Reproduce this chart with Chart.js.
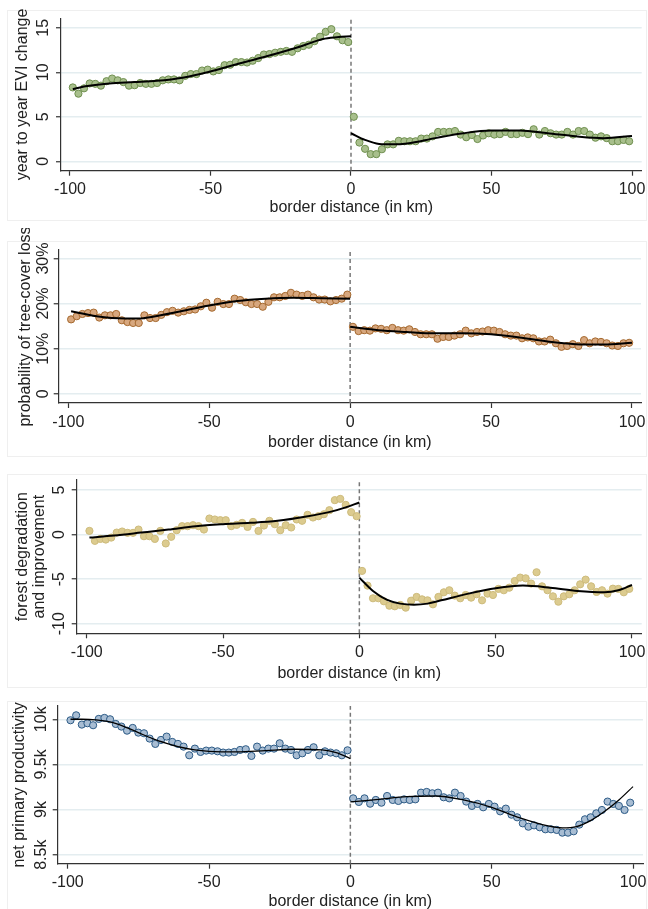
<!DOCTYPE html>
<html>
<head>
<meta charset="utf-8">
<script src="https://cdn.jsdelivr.net/npm/chart.js@4.4.1/dist/chart.umd.min.js"></script>
<style>
  html, body { margin: 0; padding: 0; background: #fff; overflow: hidden; }
  #page { position: relative; width: 648px; height: 909px; }
  .frame { position: absolute; left: 7px; width: 638px; border: 1px solid #efefef; }
  canvas { position: absolute; left: 0; }
</style>
</head>
<body>
<div id="page">
  <div class="frame" style="top:10px;height:209px"></div>
  <div class="frame" style="top:241px;height:214px"></div>
  <div class="frame" style="top:474px;height:212px"></div>
  <div class="frame" style="top:701px;height:212px"></div>
  <canvas id="chart-evi" width="648" height="222" style="top:0px"></canvas>
  <canvas id="chart-loss" width="648" height="230" style="top:228px"></canvas>
  <canvas id="chart-degradation" width="648" height="228" style="top:462px"></canvas>
  <canvas id="chart-npp" width="648" height="216" style="top:694px"></canvas>
</div>
<script>
// 2 km bins on each side of the border
const BINS_LEFT = [-99, -97, -95, -93, -91, -89, -87, -85, -83, -81, -79, -77, -75, -73, -71, -69, -67, -65, -63, -61,
  -59, -57, -55, -53, -51, -49, -47, -45, -43, -41, -39, -37, -35, -33, -31, -29, -27, -25, -23, -21,
  -19, -17, -15, -13, -11, -9, -7, -5, -3, -1];
const BINS_RIGHT = [1, 3, 5, 7, 9, 11, 13, 15, 17, 19, 21, 23, 25, 27, 29, 31, 33, 35, 37, 39,
  41, 43, 45, 47, 49, 51, 53, 55, 57, 59, 61, 63, 65, 67, 69, 71, 73, 75, 77, 79,
  81, 83, 85, 87, 89, 91, 93, 95, 97, 99];
const X_TICKS = [-100, -50, 0, 50, 100];
const BORDER = 0;

// year to year EVI change
const evi_left = [8.3, 7.6, 8.2, 8.75, 8.7, 8.5, 9.0, 9.3, 9.1, 8.9, 8.5, 8.55, 8.8, 8.7, 8.7, 8.8, 9.1, 9.2, 9.2, 9.1,
  9.6, 9.8, 9.8, 10.2, 10.3, 10.1, 10.25, 10.8, 10.85, 11.15, 11.15, 11.1, 11.3, 11.6, 12.0, 12.05, 12.2, 12.3, 12.4, 12.3,
  12.7, 12.95, 13.1, 13.5, 14.0, 14.55, 14.85, 14.05, 13.6, 13.4];
const evi_right = [5.0, 2.1, 1.4, 0.8, 0.8, 1.35, 1.9, 1.9, 2.3, 2.25, 2.25, 2.25, 2.55, 2.55, 2.8, 3.3, 3.3, 3.3, 3.4, 3.0,
  2.7, 2.95, 2.5, 2.9, 3.15, 3.0, 3.05, 3.3, 3.05, 3.05, 3.2, 3.05, 3.6, 3.0, 3.4, 3.15, 3.0, 3.0, 3.3, 3.0,
  3.4, 3.4, 3.0, 2.65, 2.8, 2.6, 2.25, 2.25, 2.4, 2.25];
const evi_fit_x_left = [-99, -95, -86, -77, -69, -60, -50, -42, -30, -18, -10, -5, 0];
const evi_fit_left = [8.1, 8.4, 8.75, 8.9, 9.05, 9.4, 10.1, 10.8, 11.8, 12.9, 13.75, 13.95, 14.05];
const evi_fit_x_right = [0, 5, 10, 15, 20, 30, 40, 50, 60, 70, 80, 90, 100];
const evi_fit_right = [3.15, 2.4, 1.95, 1.9, 2.0, 2.6, 3.15, 3.45, 3.45, 3.15, 2.8, 2.6, 2.85];
const evi_ticks = [0, 5, 10, 15];
const evi_tick_labels = ["0", "5", "10", "15"];

// probability of tree-cover loss (percent)
const loss_left = [16.5, 17.2, 17.7, 17.9, 18.0, 16.9, 17.4, 17.4, 17.7, 16.3, 15.9, 15.7, 15.7, 17.4, 16.8, 16.8, 17.5, 18.1, 18.4, 18.0,
  18.3, 18.6, 18.7, 19.4, 20.2, 19.1, 20.4, 19.9, 19.9, 21.1, 20.8, 20.3, 19.9, 19.9, 19.3, 20.4, 21.4, 21.4, 21.7, 22.4,
  22.0, 21.7, 22.0, 21.4, 20.9, 20.9, 20.5, 20.8, 21.1, 22.0];
const loss_right = [14.85, 13.9, 14.1, 14.0, 14.5, 14.4, 14.1, 14.6, 14.1, 14.0, 14.3, 13.7, 13.2, 13.2, 13.2, 12.2, 12.6, 12.6, 12.9, 13.2,
  14.0, 13.4, 13.7, 13.8, 14.1, 14.0, 13.7, 13.2, 12.9, 12.9, 12.3, 12.5, 12.3, 11.6, 11.6, 12.0, 11.2, 10.4, 10.6, 11.0,
  10.6, 11.9, 11.2, 11.6, 11.5, 11.2, 10.7, 10.6, 11.2, 11.3];
const loss_fit_x_left = [-99, -90, -80, -75, -70, -60, -50, -40, -30, -20, -10, 0];
const loss_fit_left = [18.3, 17.2, 16.7, 16.7, 17.1, 18.3, 19.6, 20.6, 21.1, 21.3, 21.2, 21.1];
const loss_fit_x_right = [0, 10, 20, 30, 40, 50, 60, 70, 80, 90, 100];
const loss_fit_right = [14.85, 14.1, 13.7, 13.4, 13.4, 13.2, 12.5, 11.6, 11.0, 10.9, 11.3];
const loss_ticks = [0, 10, 20, 30];
const loss_tick_labels = ["0", "10%", "20%", "30%"];

// forest degradation and improvement
const degr_left = [0.41, -0.71, -0.49, -0.56, -0.34, 0.22, 0.34, 0.19, 0.19, 0.56, -0.19, -0.19, -0.49, 0.41, -1.0, -0.26, 0.49, 0.94, 0.94, 1.05,
  0.94, 0.56, 1.8, 1.69, 1.61, 1.61, 0.94, 1.09, 1.31, 0.86, 1.42, 0.41, 1.01, 1.54, 1.16, 0.49, 1.05, 0.79, 1.69, 1.54,
  2.21, 1.91, 2.06, 2.28, 2.73, 3.86, 4.0, 3.33, 2.51, 2.06];
const degr_right = [-4.08, -5.73, -7.15, -7.15, -7.49, -7.98, -8.05, -7.9, -8.2, -7.42, -7.0, -7.27, -7.38, -7.83, -7.0, -6.48, -6.25, -6.85, -7.15, -6.78,
  -7.08, -6.7, -7.38, -6.63, -6.78, -6.1, -6.25, -5.96, -5.21, -4.83, -4.91, -5.5, -4.23, -5.81, -6.25, -6.93, -7.53, -6.93, -6.7, -6.25,
  -5.58, -5.06, -5.81, -6.44, -6.25, -6.63, -6.07, -6.1, -6.48, -6.1];
const degr_fit_x_left = [-99, -90, -80, -70, -60, -50, -40, -30, -20, -10, -5, 0];
const degr_fit_left = [-0.34, -0.11, 0.22, 0.56, 0.94, 1.16, 1.31, 1.54, 1.99, 2.6, 3.05, 3.6];
const degr_fit_x_right = [0, 5, 10, 15, 20, 25, 30, 40, 50, 60, 70, 80, 90, 95, 100];
const degr_fit_right = [-4.83, -6.33, -7.3, -7.75, -7.87, -7.75, -7.38, -6.63, -6.03, -5.73, -5.96, -6.33, -6.48, -6.25, -5.66];
const degr_ticks = [-10, -5, 0, 5];
const degr_tick_labels = ["-10", "-5", "0", "5"];

// net primary productivity
const npp_left = [9989, 10044, 9941, 9956, 9934, 10004, 10015, 10000, 9948, 9919, 9874, 9904, 9852, 9845, 9786, 9727, 9771, 9808, 9749, 9727,
  9697, 9601, 9675, 9638, 9653, 9653, 9645, 9631, 9631, 9638, 9660, 9668, 9594, 9697, 9653, 9675, 9675, 9734, 9675, 9660,
  9601, 9623, 9660, 9690, 9601, 9645, 9631, 9623, 9601, 9656];
const npp_right = [9124, 9084, 9124, 9065, 9106, 9076, 9150, 9106, 9095, 9113, 9106, 9113, 9187, 9195, 9180, 9187, 9136, 9124, 9187, 9150,
  9088, 9040, 9062, 9025, 9062, 9032, 8980, 9010, 8943, 8914, 8847, 8810, 8825, 8803, 8781, 8781, 8774, 8744, 8744, 8759,
  8833, 8892, 8914, 8958, 8995, 9088, 9062, 9040, 8995, 9076];
const npp_fit_x_left = [-99, -95, -90, -85, -80, -75, -70, -65, -60, -55, -50, -40, -30, -20, -10, -5, 0];
const npp_fit_left = [10000, 10000, 9993, 9970, 9919, 9852, 9786, 9734, 9690, 9660, 9645, 9638, 9653, 9668, 9660, 9630, 9565];
const npp_fit_x_right = [0, 10, 20, 30, 40, 50, 60, 70, 75, 80, 85, 90, 95, 100];
const npp_fit_right = [9084, 9113, 9143, 9150, 9106, 9025, 8907, 8818, 8796, 8810, 8877, 8980, 9106, 9254];
const npp_ticks = [8500, 9000, 9500, 10000];
const npp_tick_labels = ["8.5k", "9k", "9.5k", "10k"];

const FONT = '"Liberation Sans", Arial, sans-serif';
Chart.defaults.font.family = FONT;
Chart.defaults.font.size = 16;
Chart.defaults.color = "#222";

// Stata style: y tick labels turned 90 degrees, centred on the tick
const rotated_y_labels = {
  id: "rotated_y_labels",
  afterDraw(chart, _args, opts) {
    const scale = chart.scales.y;
    const ctx = chart.ctx;
    ctx.save();
    ctx.font = opts.size + "px " + FONT;
    ctx.fillStyle = "#222";
    ctx.textAlign = "center";
    ctx.textBaseline = "middle";
    scale.ticks.forEach((tick, i) => {
      ctx.save();
      ctx.translate(scale.right - opts.offset, scale.getPixelForTick(i));
      ctx.rotate(-Math.PI / 2);
      ctx.fillText(tick.label, 0, 0);
      ctx.restore();
    });
    ctx.restore();
  },
};

function to_points(xs, ys) {
  return xs.map((x, i) => ({ x: x, y: ys[i] }));
}

function create_panel(id, p) {
  const canvas = document.getElementById(id);
  const fit_style = {
    type: "line",
    borderColor: "#000",
    borderWidth: p.fit_width,
    pointRadius: 0,
    cubicInterpolationMode: "monotone",
    fill: false,
    order: 0,
  };
  const dot_style = {
    type: "scatter",
    backgroundColor: p.fill,
    borderColor: p.edge,
    borderWidth: 1,
    pointRadius: 3.6,
    order: 1,
  };
  new Chart(canvas, {
    type: "scatter",
    data: {
      datasets: [
        { ...fit_style, data: to_points(p.fit_x_left, p.fit_left) },
        { ...fit_style, data: to_points(p.fit_x_right, p.fit_right) },
        { ...dot_style, data: to_points(BINS_LEFT, p.left) },
        { ...dot_style, data: to_points(BINS_RIGHT, p.right) },
        {
          type: "line",
          data: [{ x: BORDER, y: p.y_min }, { x: BORDER, y: p.y_max }],
          borderColor: "#777",
          borderWidth: 1.5,
          borderDash: [4, 3],
          pointRadius: 0,
          order: 2,
        },
      ],
    },
    options: {
      responsive: false,
      animation: false,
      events: [],
      layout: {
        padding: {
          left: 0,
          top: p.area.top,
          right: canvas.width - p.area.right,
          bottom: canvas.height - p.area.bottom - p.x_axis_h,
        },
      },
      plugins: {
        legend: { display: false },
        tooltip: { enabled: false },
        rotated_y_labels: { offset: p.label_offset, size: 16 },
      },
      scales: {
        x: {
          type: "linear",
          min: p.x_min,
          max: p.x_max,
          afterBuildTicks: (s) => { s.ticks = X_TICKS.map((v) => ({ value: v })); },
          afterFit: (s) => { s.height = p.x_axis_h; s.paddingLeft = 0; s.paddingRight = 0; },
          grid: { drawOnChartArea: false, tickLength: 5, tickColor: "#333", tickWidth: 1.2 },
          border: { color: "#333", width: 1.2 },
          ticks: { padding: 4.5, maxRotation: 0, autoSkip: false },
          title: {
            display: true,
            text: "border distance (in km)",
            font: { size: 16, lineHeight: 1 },
            padding: { top: 0, bottom: 0 },
          },
        },
        y: {
          type: "linear",
          min: p.y_min,
          max: p.y_max,
          afterBuildTicks: (s) => { s.ticks = p.y_ticks.map((v) => ({ value: v })); },
          afterFit: (s) => { s.width = p.area.left; s.paddingTop = 0; s.paddingBottom = 0; },
          grid: { color: "#e4edf0", lineWidth: 1.5, tickLength: 5, tickColor: "#333", tickWidth: 1.2 },
          border: { color: "#333", width: 1.2 },
          ticks: { display: false, callback: (_v, i) => p.y_tick_labels[i] },
          title: {
            display: true,
            text: p.title,
            font: { size: 16, lineHeight: p.title_line },
            padding: { top: p.title_pad, bottom: 0 },
          },
        },
      },
    },
    plugins: [rotated_y_labels],
  });
}

create_panel("chart-evi", {
  left: evi_left, right: evi_right,
  fit_x_left: evi_fit_x_left, fit_left: evi_fit_left,
  fit_x_right: evi_fit_x_right, fit_right: evi_fit_right,
  y_ticks: evi_ticks, y_tick_labels: evi_tick_labels,
  x_min: -103.2, x_max: 103.45, y_min: -1.06, y_max: 16.07,
  title: "year to year EVI change", title_line: 1, title_pad: 14.7,
  fill: "#a8bf8c", edge: "#6f8f4f", fit_width: 2,
  area: { left: 61, right: 641.7, top: 18.3, bottom: 170.7 },
  x_axis_h: 44.4, label_offset: 17.7,
});

create_panel("chart-loss", {
  left: loss_left, right: loss_right,
  fit_x_left: loss_fit_x_left, fit_left: loss_fit_left,
  fit_x_right: loss_fit_x_right, fit_right: loss_fit_right,
  y_ticks: loss_ticks, y_tick_labels: loss_tick_labels,
  x_min: -103.4, x_max: 103.2, y_min: -2.06, y_max: 31.9,
  title: "probability of tree-cover loss", title_line: 1, title_pad: 17.7,
  fill: "#d7a77e", edge: "#a5692f", fit_width: 2,
  area: { left: 58.7, right: 641, top: 22, bottom: 175 },
  x_axis_h: 47.3, label_offset: 15.6,
});

create_panel("chart-degradation", {
  left: degr_left, right: degr_right,
  fit_x_left: degr_fit_x_left, fit_left: degr_fit_left,
  fit_x_right: degr_fit_x_right, fit_right: degr_fit_right,
  y_ticks: degr_ticks, y_tick_labels: degr_tick_labels,
  x_min: -103.67, x_max: 103.56, y_min: -11.08, y_max: 6.12,
  title: ["forest degradation", "and improvement"], title_line: 1.04, title_pad: 14.4,
  fill: "#dccb8f", edge: "#cdbb7c", fit_width: 2,
  area: { left: 76.7, right: 641.7, top: 18, bottom: 171.3 },
  x_axis_h: 48.7, label_offset: 17.4,
});

create_panel("chart-npp", {
  left: npp_left, right: npp_right,
  fit_x_left: npp_fit_x_left, fit_left: npp_fit_left,
  fit_x_right: npp_fit_x_right, fit_right: npp_fit_right,
  y_ticks: npp_ticks, y_tick_labels: npp_tick_labels,
  x_min: -103.53, x_max: 103.53, y_min: 8400, y_max: 10147,
  title: "net primary productivity", title_line: 1, title_pad: 12,
  fill: "#a8bdd3", edge: "#2d5b86", fit_width: 1.3,
  area: { left: 57.7, right: 644, top: 12, bottom: 169.7 },
  x_axis_h: 46, label_offset: 16,
});
</script>
</body>
</html>
